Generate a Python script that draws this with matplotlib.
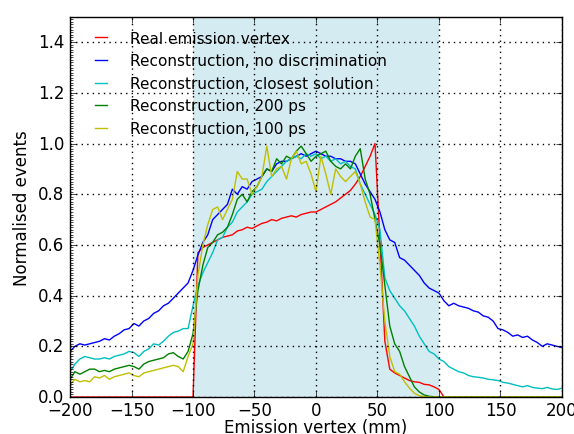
import numpy as np
import matplotlib
matplotlib.use('Agg')
import matplotlib.pyplot as plt
from matplotlib.ticker import MultipleLocator

# bin centres, 4 mm steps
vertex = np.arange(-200, 201, 4)

zeros25 = [0.0] * 25

real = zeros25 + [0.0,
    0.57, 0.59, 0.60, 0.61, 0.62, 0.63, 0.635, 0.64, 0.655, 0.66,
    0.67, 0.665, 0.675, 0.685, 0.69, 0.70, 0.695, 0.705, 0.71, 0.715,
    0.71, 0.72, 0.725, 0.73, 0.73, 0.74, 0.75, 0.76, 0.77, 0.785,
    0.80, 0.815, 0.84, 0.87, 0.91, 0.95, 1.0, 0.62, 0.22, 0.11,
    0.095, 0.085, 0.075, 0.065, 0.06, 0.058, 0.05, 0.048, 0.04, 0.03] + zeros25

no_discr = [
    0.18, 0.20, 0.21, 0.205, 0.21, 0.215, 0.22, 0.23, 0.225, 0.24,
    0.25, 0.265, 0.27, 0.29, 0.28, 0.30, 0.31, 0.33, 0.34, 0.36,
    0.37, 0.39, 0.41, 0.43, 0.45, 0.50, 0.56, 0.61, 0.64, 0.70,
    0.72, 0.74, 0.76, 0.82, 0.80, 0.83, 0.82, 0.85, 0.86, 0.87,
    0.90, 0.89, 0.92, 0.93, 0.93, 0.94, 0.95, 0.96, 0.95, 0.96,
    0.97, 0.96, 0.95, 0.95, 0.94, 0.94, 0.93, 0.93, 0.92, 0.88,
    0.84, 0.81, 0.78, 0.73, 0.66, 0.62, 0.61, 0.55, 0.54, 0.52,
    0.50, 0.48, 0.45, 0.43, 0.42, 0.41, 0.38, 0.36, 0.37, 0.36,
    0.355, 0.35, 0.34, 0.335, 0.32, 0.315, 0.30, 0.27, 0.265, 0.255,
    0.24, 0.245, 0.235, 0.24, 0.225, 0.215, 0.20, 0.21, 0.205, 0.20,
    0.195]

closest = [
    0.10, 0.13, 0.15, 0.16, 0.155, 0.15, 0.15, 0.155, 0.15, 0.16,
    0.165, 0.17, 0.18, 0.175, 0.16, 0.18, 0.19, 0.21, 0.205, 0.22,
    0.24, 0.255, 0.26, 0.27, 0.27, 0.36, 0.44, 0.49, 0.53, 0.57,
    0.62, 0.63, 0.67, 0.69, 0.73, 0.75, 0.77, 0.80, 0.81, 0.82,
    0.85, 0.87, 0.89, 0.91, 0.93, 0.94, 0.95, 0.94, 0.96, 0.95,
    0.96, 0.94, 0.95, 0.93, 0.94, 0.92, 0.93, 0.91, 0.90, 0.84,
    0.80, 0.76, 0.72, 0.66, 0.47, 0.42, 0.39, 0.36, 0.34, 0.31,
    0.28, 0.24, 0.21, 0.18, 0.17, 0.15, 0.14, 0.12, 0.11, 0.10,
    0.095, 0.085, 0.08, 0.078, 0.075, 0.07, 0.068, 0.065, 0.058, 0.055,
    0.05, 0.045, 0.04, 0.045, 0.038, 0.035, 0.033, 0.038, 0.032, 0.03,
    0.035]

ps200 = [
    0.07, 0.10, 0.09, 0.10, 0.11, 0.11, 0.10, 0.105, 0.10, 0.11,
    0.115, 0.12, 0.125, 0.12, 0.11, 0.13, 0.14, 0.145, 0.15, 0.155,
    0.17, 0.175, 0.16, 0.15, 0.18, 0.25, 0.42, 0.52, 0.59, 0.61,
    0.64, 0.65, 0.67, 0.72, 0.78, 0.80, 0.77, 0.81, 0.83, 0.87,
    0.90, 0.89, 0.94, 0.92, 0.95, 0.94, 0.97, 0.99, 0.96, 0.93,
    0.95, 0.96, 0.97, 0.93, 0.91, 0.90, 0.92, 0.90, 0.95, 0.98,
    0.86, 0.80, 0.70, 0.60, 0.44, 0.28, 0.21, 0.18, 0.12, 0.08,
    0.04, 0.02, 0.008, 0.003, 0.001, 0.0] + zeros25

ps100 = [
    0.05, 0.07, 0.06, 0.065, 0.06, 0.08, 0.075, 0.085, 0.07, 0.08,
    0.085, 0.09, 0.095, 0.085, 0.08, 0.095, 0.10, 0.105, 0.11, 0.115,
    0.12, 0.125, 0.12, 0.10, 0.16, 0.21, 0.48, 0.60, 0.68, 0.74,
    0.75, 0.70, 0.74, 0.78, 0.89, 0.86, 0.86, 0.80, 0.83, 0.87,
    0.99, 0.87, 0.90, 0.91, 0.86, 0.94, 0.97, 0.92, 0.93, 0.88,
    0.81, 0.95, 0.88, 0.80, 0.90, 0.87, 0.85, 0.87, 0.89, 0.84,
    0.77, 0.71, 0.70, 0.52, 0.30, 0.16, 0.10, 0.09, 0.06, 0.035,
    0.015, 0.005, 0.002, 0.0, 0.0, 0.0] + zeros25

labels = ['Real emission vertex', 'Reconstruction, no discrimination',
          'Reconstruction, closest solution', 'Reconstruction, 200 ps',
          'Reconstruction, 100 ps']
colors = ['r', 'b', 'c', 'g', 'y']

plt.style.use('classic')
fig = plt.figure(figsize=(5.74, 4.35), dpi=100, facecolor='w')
ax = fig.add_axes([0.122, 0.085, 0.857, 0.874])

ax.axvspan(-100, 100, color='lightblue', alpha=0.5, lw=0, zorder=0)
for y, lab, c in zip([real, no_discr, closest, ps200, ps100], labels, colors):
    ax.plot(vertex, y, color=c, lw=1, label=lab)

ax.set_xlim(-200, 200)
ax.set_ylim(0, 1.5)
ax.set_xticks(np.arange(-200, 201, 50))
ax.set_yticks(np.arange(0, 1.41, 0.2))
ax.yaxis.set_minor_locator(MultipleLocator(0.01))
ax.tick_params(axis='y', which='minor', right=False, length=2)
ax.tick_params(labelsize=12)
ax.tick_params(axis='x', pad=3)
ax.grid(True, color='k', linestyle=':', lw=1)
ax.set_axisbelow(False)
ax.set_xlabel('Emission vertex (mm)', fontsize=12, labelpad=-1)
ax.set_ylabel('Normalised events', fontsize=12)

ax.legend(loc='upper left', bbox_to_anchor=(0.02, 0.992), frameon=False,
          fontsize=11, handlelength=1.4, handletextpad=1.2,
          labelspacing=0.5, borderaxespad=0.3)

fig.savefig('out.png', dpi=100, facecolor='w')
